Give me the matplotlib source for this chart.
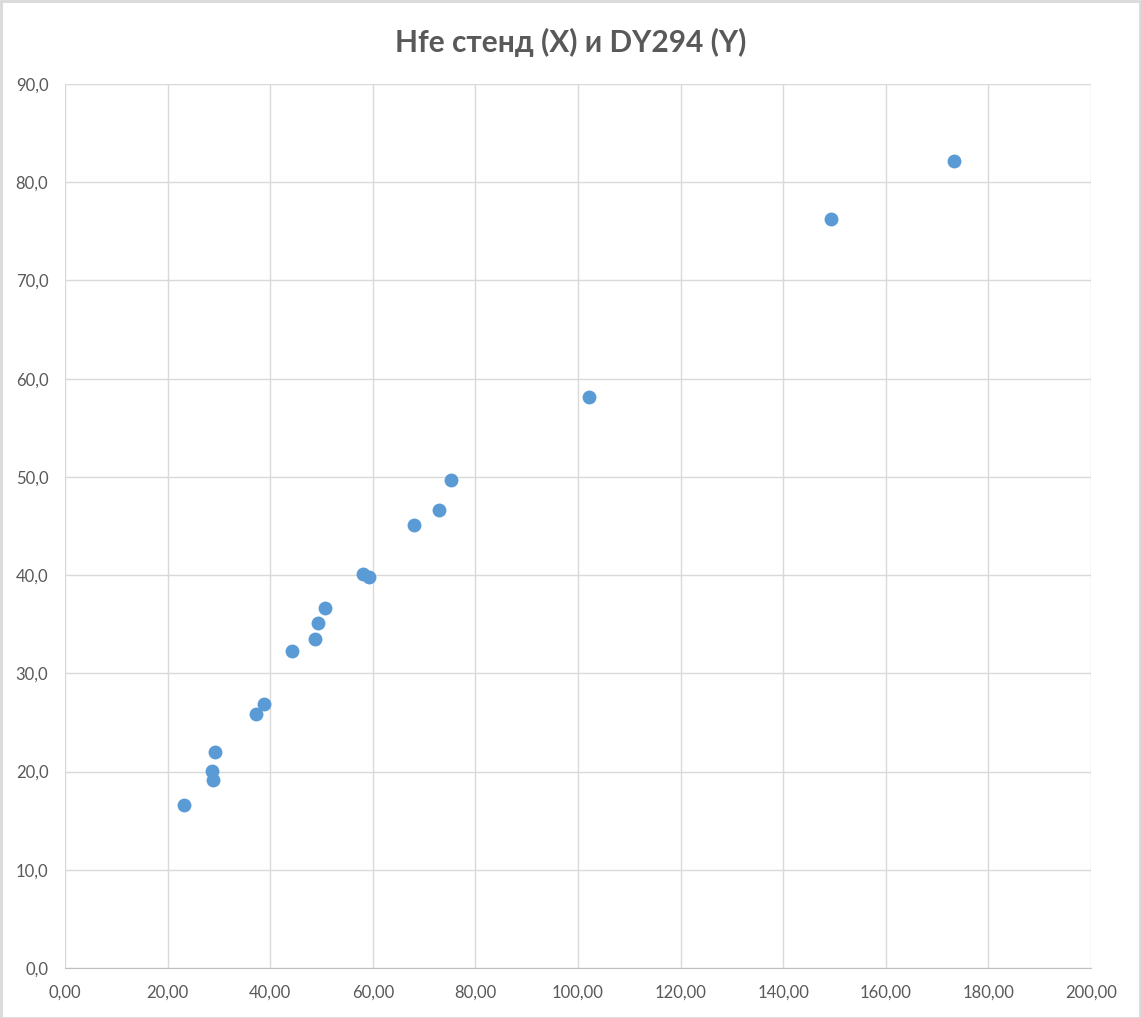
import numpy as np
import matplotlib.pyplot as plt
from matplotlib.ticker import FuncFormatter, MultipleLocator
from matplotlib.patches import Rectangle

# data
hfe_stand = [23.1, 28.6, 28.8, 29.3, 37.2, 38.8, 44.2, 48.8, 49.3, 50.6,
             58.1, 59.2, 68.1, 73.0, 75.3, 102.2, 149.3, 173.3]
dy294 = [16.6, 20.1, 19.1, 22.0, 25.9, 26.9, 32.3, 33.5, 35.1, 36.7,
         40.1, 39.8, 45.1, 46.6, 49.7, 58.1, 76.3, 82.2]

title = "Hfe стенд (X) и DY294 (Y)"

plt.rcParams['font.family'] = ['Lato', 'DejaVu Sans']

W, H = 1141, 1018
fig = plt.figure(figsize=(W / 100, H / 100), dpi=100)
ax = fig.add_axes([65 / W, 1 - 968 / H, (1091 - 65) / W, (968 - 84) / H])

ax.scatter(hfe_stand, dy294, s=100, color="#5B9BD5", zorder=3, linewidths=0)

ax.set_xlim(0, 200)
ax.set_ylim(0, 90)
ax.xaxis.set_major_locator(MultipleLocator(20))
ax.yaxis.set_major_locator(MultipleLocator(10))
ax.xaxis.set_major_formatter(FuncFormatter(lambda v, p: f"{v:.2f}".replace(".", ",")))
ax.yaxis.set_major_formatter(FuncFormatter(lambda v, p: f"{v:.1f}".replace(".", ",")))

ax.grid(True, color="#d9d9d9", linewidth=1)
ax.set_axisbelow(True)
for s in ["top", "right", "left"]:
    ax.spines[s].set_visible(False)
ax.spines["bottom"].set_color("#bfbfbf")
ax.tick_params(length=0, labelsize=12, labelcolor="#595959", pad=12)

fig.text(0.5, 1 - 42 / H, title, ha="center", va="center", fontsize=21.5,
         fontweight="bold", color="#595959")

fig.patches.append(Rectangle((0.5 / W, 0.5 / H), 1 - 1.5 / W, 1 - 1.5 / H,
                             transform=fig.transFigure, fill=False,
                             edgecolor="#d9d9d9", linewidth=2))

fig.savefig("out.png", dpi=100)
